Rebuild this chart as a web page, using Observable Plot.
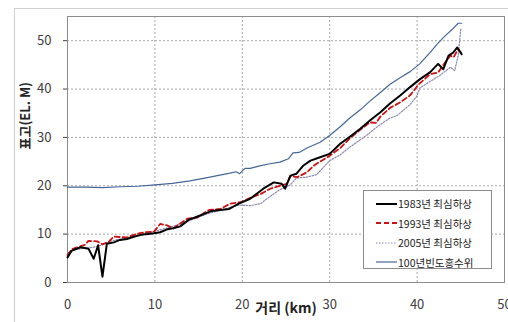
<!DOCTYPE html>
<html><head><meta charset="utf-8">
<script src="https://cdn.jsdelivr.net/npm/d3@7"></script>
<script src="https://cdn.jsdelivr.net/npm/@observablehq/plot@0.6"></script>
<style>
body{margin:0;background:#fff;font-family:"Noto Sans CJK KR","Noto Sans",sans-serif;}
#wrap{position:relative;width:508px;height:322px;overflow:hidden;background:#fff;}
#border{position:absolute;left:14px;top:8px;width:540px;height:340px;border:1px solid #d0d0d0;}
#chart{position:absolute;left:0;top:0;}
#legend{position:absolute;left:363px;top:190px;width:127px;height:77px;border:1px solid #8c8c8c;background:#fff;font-size:10.5px;color:#222;}
.row{position:absolute;left:0;height:14px;display:flex;align-items:center;white-space:nowrap;}
.row svg{margin-left:12px;margin-right:1px;}
</style></head><body>
<div id="wrap"><div id="border"></div><div id="chart"></div><div id="legend"></div></div>
<script>
// ---- data (distance km, elevation EL.m) ----
const dist1983 = [0,0.5,1.5,2.4,3.0,3.5,4.0,4.5,5.3,6.0,6.8,7.5,8.3,9.0,9.9,10.6,11.4,12.1,12.9,13.9,14.8,15.5,16.5,17.5,18.5,19.6,20.9,22.4,23.6,24.5,24.9,25.5,26.2,27.0,27.8,28.9,30.0,31.2,32.5,33.5,34.6,35.8,36.9,38.1,39.2,40.3,41.5,42.4,43.0,43.6,44.1,44.6,45.1];
const elev1983 = [5.2,6.6,7.3,7.0,4.9,7.7,1.2,8.0,8.3,8.8,9.0,9.4,9.8,10.0,10.2,10.4,11.0,11.2,11.6,13.0,13.6,14.1,14.8,15.0,15.2,16.3,17.3,19.4,20.7,20.4,19.4,22.1,22.5,24.2,25.2,25.9,26.6,28.7,30.4,31.8,33.5,35.2,37.0,38.7,40.4,42.0,43.5,45.2,44.1,46.9,47.5,48.6,47.2];

const dist1993 = [0,0.5,1.5,2.0,2.4,3.4,4.0,4.7,5.3,6.0,6.8,7.5,8.3,9.0,9.9,10.6,11.4,12.1,12.9,13.7,14.8,15.5,16.2,17.5,18.6,19.8,20.9,22.1,23.2,24.3,25.1,25.5,26.3,27.4,28.2,28.9,30.0,31.2,32.3,33.5,34.6,35.3,35.8,36.9,38.1,39.2,40.2,41.5,42.4,43.2,43.8,44.2,44.7,45.1];
const elev1993 = [5.7,6.9,7.5,7.8,8.6,8.5,7.9,8.4,9.5,9.4,9.3,9.8,10.2,10.4,10.5,12.1,11.8,11.2,12.2,13.2,13.4,14.2,15.0,15.2,16.3,16.6,17.5,18.3,19.4,20.0,20.4,22.0,21.8,22.8,24.2,25.0,26.2,27.8,29.8,31.6,33.1,33.0,34.3,36.1,37.3,38.7,41.0,43.1,43.4,45.5,46.9,46.6,48.3,47.3];

const dist2005 = [0,0.5,1.5,3.0,4.0,5.0,7.0,8.5,10.0,12.0,14.0,16.0,18.0,19.5,20.9,22.1,22.8,24.3,25.5,26.2,27.4,28.5,30.0,31.2,32.3,34.2,35.5,36.9,37.7,39.2,40.0,40.3,41.5,42.6,43.8,44.3,44.7,45.0];
const elev2005 = [6.0,6.6,7.0,7.3,7.8,8.6,9.3,10.0,10.6,11.6,12.8,14.2,15.2,16.0,15.9,16.3,17.3,19.2,20.2,21.6,21.8,22.3,25.2,26.4,28.0,30.4,32.3,34.0,34.5,36.8,38.6,40.2,41.6,42.8,44.5,43.8,46.9,52.4];

const distFlood = [0,2,4,6,8,10,12,14,16,18,18.6,19.3,19.7,20.3,20.9,22,23,24.3,25.3,25.8,26.5,27.4,28.9,30.0,31.2,32.3,33.5,34.6,35.8,36.9,38.1,39.2,40.3,41.5,42.3,43.2,44.0,44.7,45.1];
const elevFlood = [19.7,19.7,19.6,19.8,19.9,20.2,20.5,21.0,21.7,22.4,22.6,22.9,22.5,23.6,23.6,24.1,24.5,24.9,25.6,26.8,26.9,27.8,29.0,30.4,32.2,34.0,35.7,37.5,39.3,41.0,42.4,43.6,45.2,47.6,49.3,51.0,52.3,53.6,53.6];

const seriesNames = ["1983년 최심하상","1993년 최심하상","2005년 최심하상","100년빈도홍수위"];
const xTicks = [0,10,20,30,40,50];
const yTicks = [0,10,20,30,40,50];
const xLabel = "거리 (km)";
const yLabel = "표고(EL. M)";

const styles = [
  {stroke:"#000000", strokeWidth:2, dash:null},
  {stroke:"#cc1111", strokeWidth:1.8, dash:"5,3"},
  {stroke:"#8a8ab0", strokeWidth:1.2, dash:"1.5,1.5"},
  {stroke:"#44689a", strokeWidth:1.2, dash:null}
];

const rows = (xs, ys) => xs.map((d,i)=>({dist:d, elev:ys[i]}));
const data = [rows(dist1983,elev1983), rows(dist1993,elev1993), rows(dist2005,elev2005), rows(distFlood,elevFlood)];

const lineMark = (k) => Plot.line(data[k], {x:"dist", y:"elev", stroke:styles[k].stroke, strokeWidth:styles[k].strokeWidth, strokeDasharray:styles[k].dash, curve:"linear"});

const plot = Plot.plot({
  width:508, height:322,
  marginLeft:67, marginRight:4, marginTop:16, marginBottom:40,
  style:{fontFamily:'"Noto Sans CJK KR","Noto Sans",sans-serif', fontSize:"13px", color:"#404040", background:"transparent", overflow:"visible"},
  x:{domain:[0,50]},
  y:{domain:[0,55]},
  marks:[
    Plot.ruleX(xTicks.slice(1,-1), {stroke:"#a8a8a8", strokeWidth:1, strokeDasharray:"2,2"}),
    Plot.ruleY(yTicks.slice(1), {stroke:"#a8a8a8", strokeWidth:1, strokeDasharray:"2,2"}),
    Plot.axisY(yTicks, {tickSize:4, tickPadding:12, label:null}),
    Plot.axisX(xTicks, {tickSize:0, tickPadding:17, label:null}),
    Plot.frame({stroke:"#8c8c8c"}),
    lineMark(3), lineMark(2), lineMark(1), lineMark(0),
    Plot.text([yLabel], {frameAnchor:"left", dx:-42, rotate:-90, fontWeight:"bold", fontSize:13, fill:"#222"}),
    Plot.text([xLabel], {frameAnchor:"bottom", dy:30, fontWeight:"bold", fontSize:14, fill:"#222"})
  ]
});
document.getElementById("chart").appendChild(plot);

// legend
const leg = document.getElementById("legend");
seriesNames.forEach((name, i) => {
  const r = document.createElement("div");
  r.className = "row";
  r.style.top = (5.5 + i*19.5) + "px";
  const s = styles[i];
  r.innerHTML = `<svg width="21" height="6"><line x1="0" y1="3" x2="21" y2="3" stroke="${s.stroke}" stroke-width="${s.strokeWidth}" ${s.dash?`stroke-dasharray="${s.dash}"`:""}/></svg><span>${name}</span>`;
  leg.appendChild(r);
});
</script>
</body></html>
